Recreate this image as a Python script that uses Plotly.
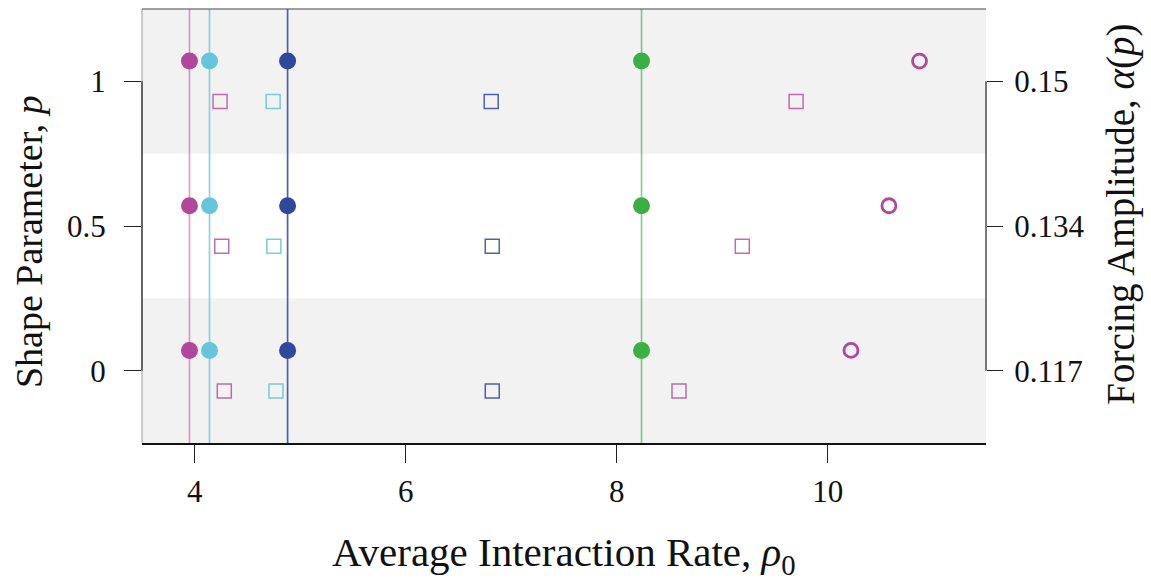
import plotly.graph_objects as go

# ---- data ----
p_values = [0, 0.5, 1]
p_ticktext = ["0", "0.5", "1"]
alpha_ticktext = ["0.117", "0.134", "0.15"]
x_tickvals = [4, 6, 8, 10]

# filled circles (also vertical reference lines)
rho_magenta = [3.95, 3.95, 3.95]
rho_cyan = [4.14, 4.14, 4.14]
rho_blue = [4.88, 4.88, 4.88]
rho_green = [8.235, 8.235, 8.235]

# open circles
rho_open_magenta = [10.22, 10.58, 10.87]

# open squares
sq_magenta_low = [4.28, 4.256, 4.24]
sq_cyan = [4.77, 4.75, 4.743]
sq_blue = [6.82, 6.82, 6.81]
sq_magenta_high = [8.59, 9.19, 9.70]

# bands (shape parameter bins)
band_lo = [-0.25, 0.75]
band_hi = [0.25, 1.25]

MAG = "#B0479A"
CYA = "#66C6D9"
BLU = "#30489C"
GRN = "#3BAE44"

OFF = 0.07
circ_y = [p + OFF for p in p_values]
sq_y = [p - OFF for p in p_values]

FONT = "Liberation Serif"

fig = go.Figure()

# bands
for lo, hi in zip(band_lo, band_hi):
    fig.add_shape(type="rect", xref="paper", x0=0, x1=1, yref="y", y0=lo, y1=hi,
                  fillcolor="#F2F2F2", line=dict(width=0), layer="below")

# vertical lines
for xs, col in [(rho_magenta, "rgba(176,71,154,0.5)"), (rho_cyan, "rgba(102,198,217,0.75)"),
                (rho_blue, "rgba(48,72,156,0.85)"), (rho_green, "rgba(59,174,68,0.6)")]:
    fig.add_shape(type="line", xref="x", x0=xs[0], x1=xs[0], yref="paper", y0=0, y1=1,
                  line=dict(color=col, width=1.7), layer="below")

# frame bits
fig.add_shape(type="line", xref="paper", x0=0, x1=0, yref="paper", y0=0, y1=1,
              line=dict(color="#9a9a9a", width=1))
fig.add_shape(type="line", xref="paper", x0=0, x1=1, yref="paper", y0=1, y1=1,
              line=dict(color="#444444", width=1))
fig.add_shape(type="line", xref="paper", x0=0, x1=0, yref="y", y0=p_values[0], y1=p_values[-1],
              line=dict(color="#222222", width=1.2))
fig.add_shape(type="line", xref="paper", x0=1, x1=1, yref="y", y0=p_values[0], y1=p_values[-1],
              line=dict(color="#222222", width=1.2))

def sq(xs, col):
    fig.add_trace(go.Scatter(x=xs, y=sq_y, mode="markers", showlegend=False,
                             marker=dict(symbol="square-open", size=14, color=col,
                                         line=dict(width=1.5, color=col))))

sq(sq_magenta_low, "rgba(176,71,154,0.8)")
sq(sq_cyan, "rgba(102,198,217,0.9)")
sq(sq_blue, "rgba(48,72,156,0.85)")
sq(sq_magenta_high, "rgba(176,71,154,0.8)")

def fc(xs, col):
    fig.add_trace(go.Scatter(x=xs, y=circ_y, mode="markers", showlegend=False,
                             marker=dict(symbol="circle", size=17, color=col, line=dict(width=0))))

fc(rho_magenta, MAG)
fc(rho_cyan, CYA)
fc(rho_blue, BLU)
fc(rho_green, GRN)

fig.add_trace(go.Scatter(x=rho_open_magenta, y=circ_y, mode="markers", showlegend=False,
                         marker=dict(symbol="circle-open", size=14, color=MAG,
                                     line=dict(width=2.8, color=MAG))))

# invisible trace to activate the right axis
fig.add_trace(go.Scatter(x=[x_tickvals[0]], y=[p_values[0]], yaxis="y2", mode="markers",
                         marker=dict(opacity=0), hoverinfo="skip", showlegend=False))

tickfont = dict(family=FONT, size=31, color="#111111")

fig.update_layout(
    width=1151, height=582,
    margin=dict(l=142, r=165, t=9, b=139),
    plot_bgcolor="white", paper_bgcolor="white",
    xaxis=dict(range=[3.5, 11.5], tickvals=x_tickvals, ticks="outside", ticklen=18,
               tickwidth=1, tickcolor="#222", showline=True, linecolor="#111", linewidth=1.5,
               showgrid=False, zeroline=False, tickfont=tickfont, ticklabelstandoff=2),
    yaxis=dict(range=[-0.25, 1.25], tickvals=p_values, ticktext=p_ticktext, ticks="outside",
               ticklen=17, tickwidth=1, tickcolor="#222", showline=False, showgrid=False,
               zeroline=False, tickfont=tickfont, ticklabelstandoff=12),
    yaxis2=dict(range=[-0.25, 1.25], overlaying="y", side="right", tickvals=p_values,
                ticktext=alpha_ticktext, ticks="outside", ticklen=16, tickwidth=1,
                tickcolor="#222", showline=False, showgrid=False, zeroline=False,
                tickfont=tickfont, ticklabelstandoff=5),
    annotations=[
        dict(text="Average Interaction Rate, <i>ρ</i><sub>0</sub>", xref="paper", yref="paper",
             x=0.5, y=-0.258, xanchor="center", yanchor="middle", showarrow=False,
             font=dict(family=FONT, size=41, color="#111")),
        dict(text="Shape Parameter, <i>p</i>", xref="paper", yref="paper",
             x=-0.134, y=0.465, xanchor="center", yanchor="middle", showarrow=False, textangle=-90,
             font=dict(family=FONT, size=38, color="#111")),
        dict(text="Forcing Amplitude, <i>α</i>(<i>p</i>)", xref="paper", yref="paper",
             x=1.160, y=0.526, xanchor="center", yanchor="middle", showarrow=False, textangle=-90,
             font=dict(family=FONT, size=39, color="#111")),
    ],
)

fig.write_html("out.html", config={"displayModeBar": False},
               post_script="document.body.style.margin='0px';")
